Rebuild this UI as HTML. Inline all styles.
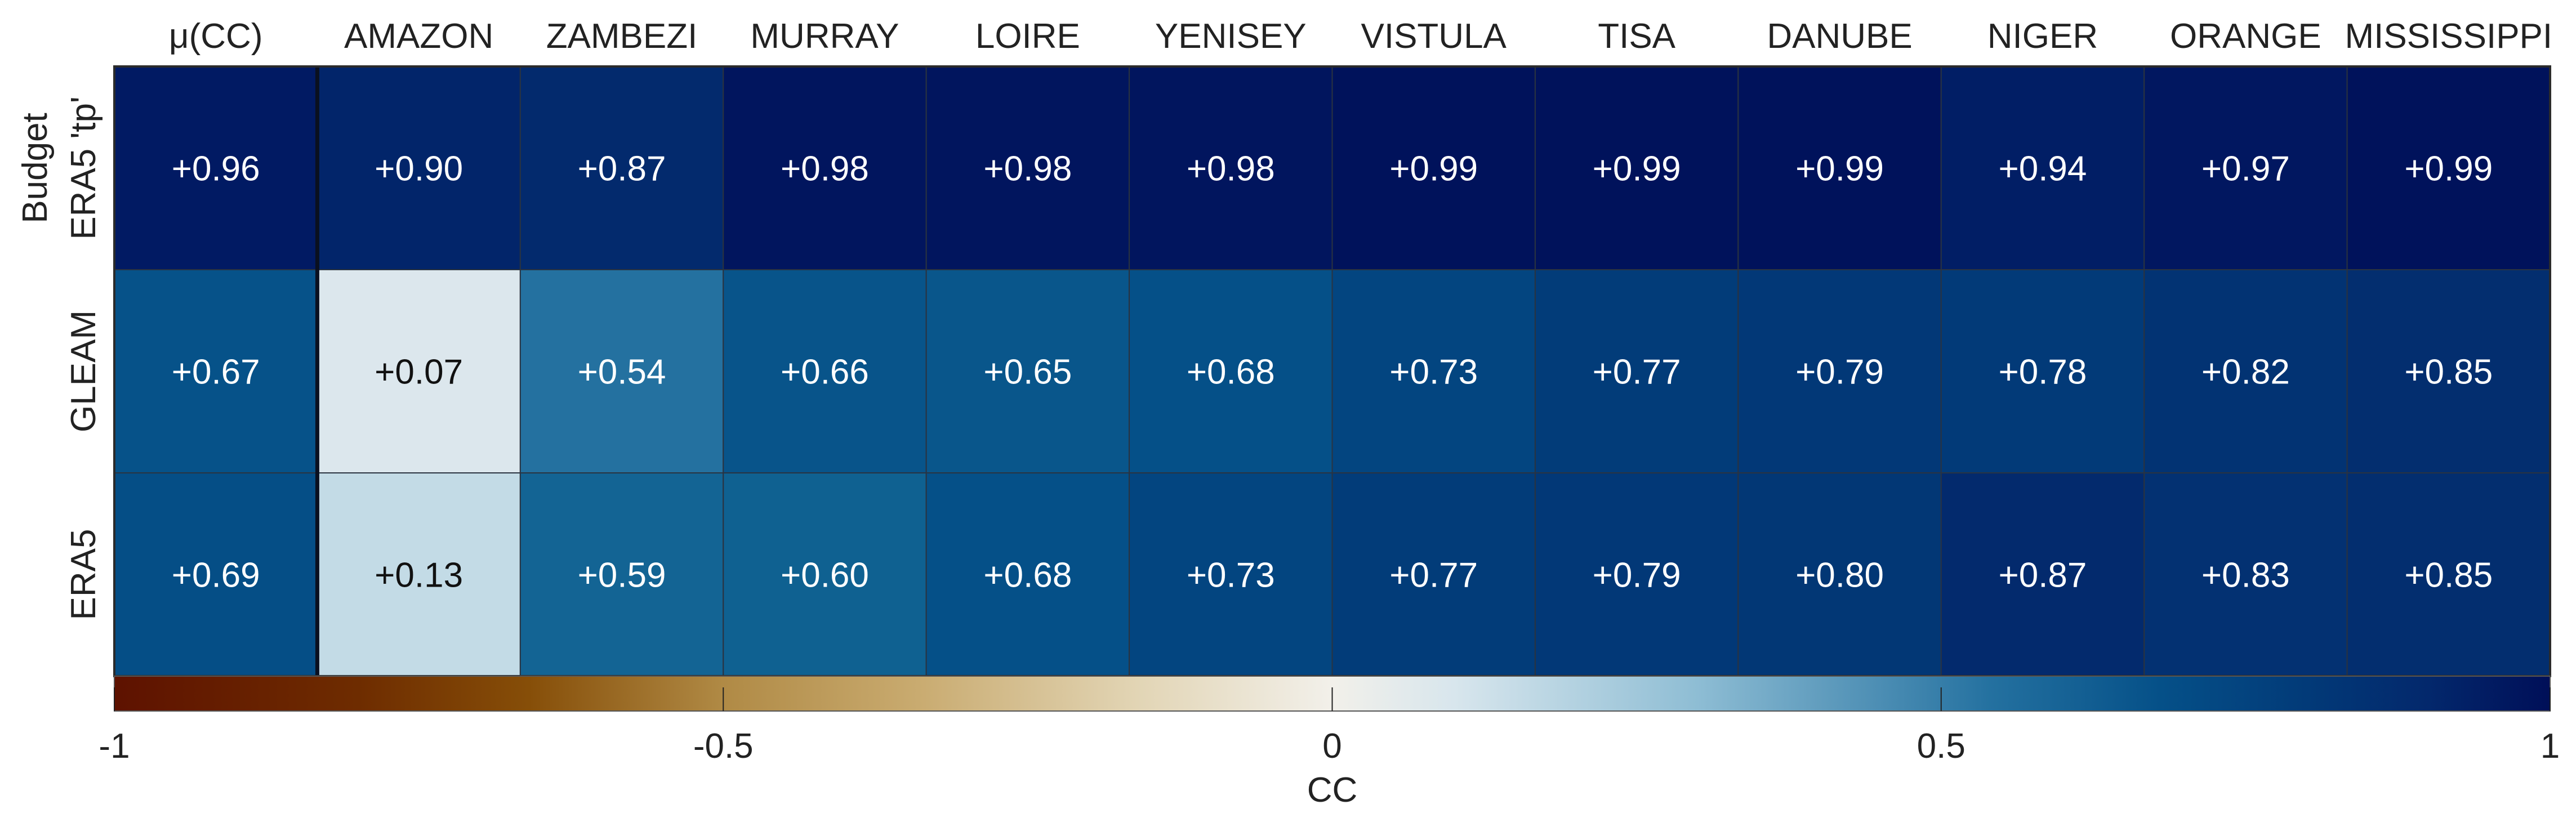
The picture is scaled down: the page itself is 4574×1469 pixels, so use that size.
<!DOCTYPE html>
<html><head><meta charset="utf-8"><style>
html,body{margin:0;padding:0;background:#fff;}
svg{display:block;font-family:"Liberation Sans",Arial,sans-serif;}
</style></head><body>
<svg id="chart" width="4574" height="1469" viewBox="0 0 4574 1469" xmlns="http://www.w3.org/2000/svg">
<defs>
<linearGradient id="cmap" x1="0" x2="1" y1="0" y2="0">
<stop offset="0" stop-color="#5e1200"/>
<stop offset="0.1" stop-color="#6e2c00"/>
<stop offset="0.17" stop-color="#864e08"/>
<stop offset="0.25" stop-color="#b08a45"/>
<stop offset="0.33" stop-color="#c9ab70"/>
<stop offset="0.42" stop-color="#e2d5b5"/>
<stop offset="0.5" stop-color="#f2f0ea"/>
<stop offset="0.55" stop-color="#d8e6ed"/>
<stop offset="0.65" stop-color="#8ebdd4"/>
<stop offset="0.77" stop-color="#2471a0"/>
<stop offset="0.84" stop-color="#055088"/>
<stop offset="0.9" stop-color="#023a78"/>
<stop offset="0.95" stop-color="#03286c"/>
<stop offset="1" stop-color="#000f58"/>
</linearGradient>
</defs>
<g id="cells"></g>
<g id="labels"></g>
</svg>
<script>
const columns = ["μ(CC)","AMAZON","ZAMBEZI","MURRAY","LOIRE","YENISEY","VISTULA","TISA","DANUBE","NIGER","ORANGE","MISSISSIPPI"];
const rowsLabels = [["Budget","ERA5 'tp'"],["GLEAM"],["ERA5"]];
const rowTp = [0.96,0.90,0.87,0.98,0.98,0.98,0.99,0.99,0.99,0.94,0.97,0.99];
const rowGleam = [0.67,0.07,0.54,0.66,0.65,0.68,0.73,0.77,0.79,0.78,0.82,0.85];
const rowEra5 = [0.69,0.13,0.59,0.60,0.68,0.73,0.77,0.79,0.80,0.87,0.83,0.85];
const cbTicks = [-1,-0.5,0,0.5,1];
const cbTickLabels = ["-1","-0.5","0","0.5","1"];

const NS="http://www.w3.org/2000/svg";
const L=203, T=118, W=4528-203, CW=W/12, RH=361;
const cbTop=T+3*RH, cbH=62;
const stops=[[-1,[94,18,0]],[-0.8,[108,42,0]],[-0.66,[127,72,0]],[-0.5,[156,110,42]],[-0.34,[192,160,96]],[-0.16,[224,210,176]],[0,[242,240,234]],[0.07,[220,231,237]],[0.13,[195,219,230]],[0.3,[127,178,207]],[0.54,[36,113,160]],[0.6,[15,97,145]],[0.68,[5,80,136]],[0.77,[2,60,121]],[0.87,[3,42,109]],[0.96,[1,26,99]],[1,[0,15,88]]];
function cmap(v){for(let i=0;i<stops.length-1;i++){const a=stops[i],b=stops[i+1];if(v<=b[0]){const t=(v-a[0])/(b[0]-a[0]);return "rgb("+a[1].map((c,k)=>Math.round(c+(b[1][k]-c)*t)).join(",")+")";}}return "rgb(0,15,88)";}
const x=i=>L+i*CW, y=r=>T+r*RH, cbx=v=>L+(v+1)/2*W;
function el(tag,attrs,parent){const e=document.createElementNS(NS,tag);for(const k in attrs)e.setAttribute(k,attrs[k]);parent.appendChild(e);return e;}
const cells=document.getElementById('cells'), labels=document.getElementById('labels');
const data=[rowTp,rowGleam,rowEra5];
const rowNames=["era5-tp","gleam","era5"];
data.forEach((row,r)=>{row.forEach((v,c)=>{
  const rect=el('rect',{x:x(c),y:y(r),width:CW,height:RH,fill:cmap(v),stroke:'#2a3340','stroke-width':2},cells);
  
  
  const t=el('text',{x:x(c)+CW/2,y:y(r)+RH/2+22,'text-anchor':'middle','font-size':62,fill:v<0.3?'#111':'#fff'},labels);
  t.textContent='+'+v.toFixed(2);
  
  
});});
const sep=el('line',{x1:x(1),x2:x(1),y1:T,y2:T+3*RH,stroke:'#0a1020','stroke-width':7},cells);


const frame=el('rect',{x:L,y:T,width:W,height:3*RH,fill:'none',stroke:'#2b2b2b','stroke-width':4},cells);


columns.forEach((n,c)=>{const t=el('text',{x:x(c)+CW/2,y:85,'text-anchor':'middle','font-size':62,fill:'#222'},labels);t.textContent=n;
  
  });
const rlx=[[83,169],[169],[169]];
rowsLabels.forEach((lines,r)=>{lines.forEach((s,k)=>{const cx=rlx[r][k],cy=y(r)+RH/2;
  const t=el('text',{x:cx,y:cy,'text-anchor':'middle','font-size':62,fill:'#222',transform:'rotate(-90 '+cx+' '+cy+')'},labels);t.textContent=s;
  
  });});
const cb=el('rect',{x:L,y:cbTop,width:W,height:cbH,fill:'url(#cmap)',stroke:'#555','stroke-width':2},labels);


cbTicks.forEach((v,i)=>{
  const tk=el('line',{x1:cbx(v),x2:cbx(v),y1:cbTop+cbH,y2:cbTop+cbH-42,stroke:'#222','stroke-width':2},labels);
  
  
  const t=el('text',{x:cbx(v),y:1346,'text-anchor':'middle','font-size':62,fill:'#222'},labels);t.textContent=cbTickLabels[i];
  
  
});
const ct=el('text',{x:cbx(0),y:1424,'text-anchor':'middle','font-size':62,fill:'#222'},labels);ct.textContent='CC';


</script>
</body></html>
